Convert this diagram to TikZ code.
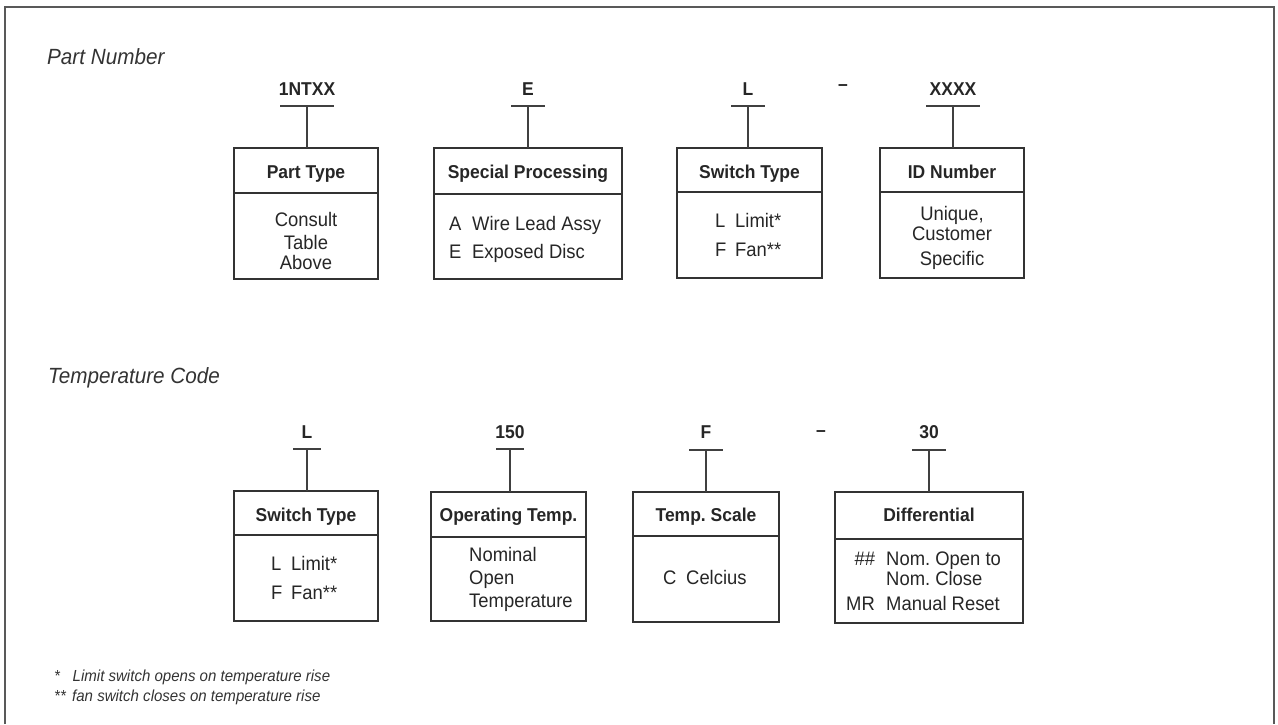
\documentclass[tikz,border=0pt]{standalone}
\usepackage{fontspec}
\setmainfont[FakeStretch=0.94]{Liberation Sans}
\frenchspacing
\newcommand\mkbox[6]{% name x1 x2 top div bottom
  \pgfmathsetmacro\bw{#3-#2}\pgfmathsetmacro\hh{#5-#4}\pgfmathsetmacro\bh{#6-#5}%
  \node[boxl, minimum width=\bw pt, minimum height=\hh pt] (#1-h) at (#2,#4) {};
  \node[boxl, minimum width=\bw pt, minimum height=\bh pt] (#1-b) at (#2,#5) {};
}
\begin{document}
\frenchspacing
\begin{tikzpicture}[x=1pt,y=-1pt,
  frame/.style={draw=black!65, line width=1.2pt},
  boxl/.style={draw=black!80, line width=1.4pt, inner sep=0pt, outer sep=0pt, anchor=north west},
  conn/.style={draw=black!75, line width=1.2pt},
  code/.style={font=\fontsize{18.6}{21}\selectfont\bfseries, text=black!85, inner sep=0pt, anchor=base},
  hd/.style={font=\fontsize{18.6}{21}\selectfont\bfseries, text=black!85, inner sep=0pt, anchor=base},
  bd/.style={font=\fontsize{19.6}{22}\selectfont, text=black!85, inner sep=0pt, anchor=base},
  bdl/.style={bd, anchor=base west},
  bdr/.style={bd, anchor=base east},
  title/.style={font=\fontsize{22}{25}\selectfont\itshape, text=black!80, inner sep=0pt, anchor=base west},
  note/.style={font=\fontsize{16}{18}\selectfont\itshape, text=black!80, inner sep=0pt, anchor=base west}]
\useasboundingbox (0,0) rectangle (1278,724);
% frame
\draw[frame] (5,724) -- (5,7) -- (1274,7) -- (1274,724);

% ---------------- Part Number ----------------
\node[title] (t1) at (47,64) {Part Number};

\mkbox{pt}{234}{378}{148}{193}{279}
\mkbox{sp}{434}{622}{148}{194}{279}
\mkbox{st}{677}{822}{148}{192}{278}
\mkbox{id}{880}{1024}{148}{192}{278}

\node[code] (k1) at (307,95) {1NTXX};
\node[code] (k2) at (528,95) {E};
\node[code] (k3) at (748,95) {L};
\node[code] (kd1) at (843,90) {–};
\node[code] (k4) at (953,95) {XXXX};

\coordinate (c1) at (307,106);
\coordinate (c2) at (528,106);
\coordinate (c3) at (748,106);
\coordinate (c4) at (953,106);
\draw[conn] ([xshift=-27pt]c1) -- ([xshift=27pt]c1);
\draw[conn] ([xshift=-17pt]c2) -- ([xshift=17pt]c2);
\draw[conn] ([xshift=-17pt]c3) -- ([xshift=17pt]c3);
\draw[conn] ([xshift=-27pt]c4) -- ([xshift=27pt]c4);
\draw[conn] (c1) -- (c1 |- pt-h.north);
\draw[conn] (c2) -- (c2 |- sp-h.north);
\draw[conn] (c3) -- (c3 |- st-h.north);
\draw[conn] (c4) -- (c4 |- id-h.north);

\node[hd] (pt-t) at (306,178) {Part Type};
\node[hd] (sp-t) at (528,178) {Special Processing};
\node[hd] (st-t) at (749.5,178) {Switch Type};
\node[hd] (id-t) at (952,178) {ID Number};

\node[bd] (pt1) at (306,226) {Consult};
\node[bd] (pt2) at (306,249) {Table};
\node[bd] (pt3) at (306,269) {Above};

\node[bdl] (sp1) at (449,230) {\makebox[23pt][l]{A}Wire Lead Assy};
\node[bdl] (sp2) at (449,258) {\makebox[23pt][l]{E}Exposed Disc};

\node[bdl] (st1) at (715,227) {\makebox[20pt][l]{L}Limit*};
\node[bdl] (st2) at (715,256) {\makebox[20pt][l]{F}Fan**};

\node[bd] (id1) at (952,220) {Unique,};
\node[bd] (id2) at (952,240) {Customer};
\node[bd] (id3) at (952,265) {Specific};

% ---------------- Temperature Code ----------------
\node[title] (t2) at (48,383) {Temperature Code};

\mkbox{sw}{234}{378}{491}{535}{621}
\mkbox{ot}{431}{586}{492}{537}{621}
\mkbox{ts}{633}{779}{492}{536}{622}
\mkbox{df}{835}{1023}{492}{539}{623}

\node[code] (m1) at (307,438) {L};
\node[code] (m2) at (510,438) {150};
\node[code] (m3) at (706,438) {F};
\node[code] (md1) at (821,436) {–};
\node[code] (m4) at (929,438) {30};

\coordinate (d1) at (307,449);
\coordinate (d2) at (510,449);
\coordinate (d3) at (706,450);
\coordinate (d4) at (929,450);
\draw[conn] ([xshift=-14pt]d1) -- ([xshift=14pt]d1);
\draw[conn] ([xshift=-14pt]d2) -- ([xshift=14pt]d2);
\draw[conn] ([xshift=-17pt]d3) -- ([xshift=17pt]d3);
\draw[conn] ([xshift=-17pt]d4) -- ([xshift=17pt]d4);
\draw[conn] (d1) -- (d1 |- sw-h.north);
\draw[conn] (d2) -- (d2 |- ot-h.north);
\draw[conn] (d3) -- (d3 |- ts-h.north);
\draw[conn] (d4) -- (d4 |- df-h.north);

\node[hd] (sw-t) at (306,521.7) {Switch Type};
\node[hd] (ot-t) at (508.5,521.7) {Operating Temp.};
\node[hd] (ts-t) at (706,521.7) {Temp. Scale};
\node[hd] (df-t) at (929,521.7) {Differential};

\node[bdl] (sw1) at (271,570.7) {\makebox[20pt][l]{L}Limit*};
\node[bdl] (sw2) at (271,599) {\makebox[20pt][l]{F}Fan**};

\node[bdl] (ot1) at (469,561) {Nominal};
\node[bdl] (ot2) at (469,584.3) {Open};
\node[bdl] (ot3) at (469,607.7) {Temperature};

\node[bdl] (ts1) at (663,584) {\makebox[23pt][l]{C}Celcius};

\node[bdr] (df1) at (875,565.7) {\itshape\#\#};
\node[bdl] (df2) at (886,565.7) {Nom. Open to};
\node[bdl] (df3) at (886,585) {Nom. Close};
\node[bdr] (df4) at (875,610.7) {MR};
\node[bdl] (df5) at (886,610.7) {Manual Reset};

% footnotes
\node[note] (n1a) at (54,681.7) {*};
\node[note] (n1b) at (72.5,681.7) {Limit switch opens on temperature rise};
\node[note] (n2a) at (54,701.7) {**};
\node[note] (n2b) at (72,701.7) {fan switch closes on temperature rise};
\end{tikzpicture}
\end{document}
